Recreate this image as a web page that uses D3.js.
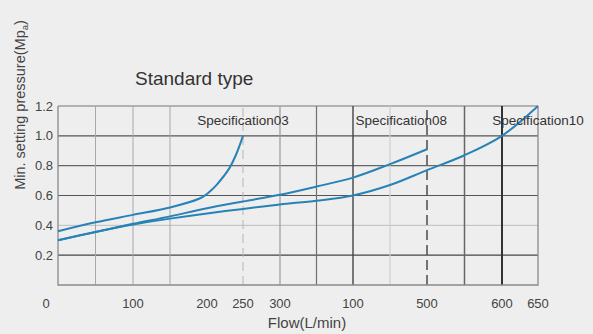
<!DOCTYPE html>
<html>
<head>
<meta charset="utf-8">
<script src="https://cdn.jsdelivr.net/npm/d3@7"></script>
<style>
  body { margin: 0; background: #efeeee; }
  svg { display: block; font-family: "Liberation Sans", Arial, sans-serif; }
</style>
</head>
<body>
<script>
// tick labels as printed on the original (second "100" is printed that way)
const xTickValues = [0, 100, 200, 250, 300, 400, 500, 600, 650]
const xTickLabels = ["0", "100", "200", "250", "300", "100", "500", "600", "650"]
const yTickValues = [0.2, 0.4, 0.6, 0.8, 1.0, 1.2]
const xGridValues = [50, 100, 150, 250, 300, 350, 400, 450, 500, 550, 600]

const spec03Flow = [0, 50, 100, 150, 190, 200, 207, 214, 230, 240, 250]
const spec03Pressure = [0.36, 0.42, 0.47, 0.52, 0.58, 0.61, 0.64, 0.675, 0.775, 0.87, 1.0]

const spec08Flow = [0, 50, 100, 150, 200, 250, 300, 350, 400, 450, 500]
const spec08Pressure = [0.30, 0.355, 0.41, 0.46, 0.515, 0.56, 0.605, 0.66, 0.72, 0.81, 0.91]

const spec10Flow = [0, 50, 100, 150, 200, 250, 300, 350, 400, 450, 500, 550, 600, 650]
const spec10Pressure = [0.30, 0.355, 0.405, 0.445, 0.48, 0.51, 0.54, 0.565, 0.60, 0.67, 0.77, 0.87, 1.0, 1.2]

const seriesNames = ["Specification03", "Specification08", "Specification10"]

width = 593
height = 334

// the flow axis is not uniform on the original, so map it piecewise
x = d3.scaleLinear()
  .domain(xTickValues)
  .range([58, 133, 207, 243, 280, 353, 427, 502, 538])

y = d3.scaleLinear()
  .domain([0, 1.2])
  .range([285, 106])

const svg = d3.select("body").append("svg")
  .attr("width", width)
  .attr("height", height)

// vertical grid styles
const vStyle = {
  50: {c: "#a8a8a8", w: 1}, 100: {c: "#a8a8a8", w: 1}, 150: {c: "#a8a8a8", w: 1},
  250: {c: "#b4b4b4", w: 1, dash: "9,5"}, 300: {c: "#9a9a9a", w: 1.2},
  350: {c: "#707070", w: 1.2}, 400: {c: "#444", w: 1.4}, 450: {c: "#cfcfcf", w: 1.2},
  500: {c: "#555", w: 1.6, dash: "10,5"}, 550: {c: "#666", w: 1.5}, 600: {c: "#333", w: 2}
}
const hStyle = {
  0.2: {c: "#444", w: 1.2}, 0.4: {c: "#bdbdbd", w: 1}, 0.6: {c: "#555", w: 1.2},
  0.8: {c: "#666", w: 1.2}, 1.0: {c: "#555", w: 1.2}, 1.2: {c: "#777", w: 1.2}
}

svg.append("g")
  .selectAll("line")
  .data(yTickValues)
  .join("line")
    .attr("x1", x(0)).attr("x2", x(650))
    .attr("y1", d => y(d)).attr("y2", d => y(d))
    .attr("stroke", d => hStyle[d].c)
    .attr("stroke-width", d => hStyle[d].w)

svg.append("g")
  .selectAll("line")
  .data(xGridValues)
  .join("line")
    .attr("x1", d => x(d)).attr("x2", d => x(d))
    .attr("y1", y(0)).attr("y2", y(1.2))
    .attr("stroke", d => vStyle[d].c)
    .attr("stroke-width", d => vStyle[d].w)
    .attr("stroke-dasharray", d => vStyle[d].dash || null)

// frame: left, bottom, right
svg.append("path")
  .attr("d", `M${x(0)},${y(1.2)}V${y(0)}H${x(650)}V${y(1.2)}`)
  .attr("fill", "none")
  .attr("stroke", "#8a8a8a")
  .attr("stroke-width", 1.3)

// curves
const series = [
  spec03Flow.map((f, i) => [f, spec03Pressure[i]]),
  spec08Flow.map((f, i) => [f, spec08Pressure[i]]),
  spec10Flow.map((f, i) => [f, spec10Pressure[i]])
]

const line = d3.line()
  .x(d => x(d[0]))
  .y(d => y(d[1]))
  .curve(d3.curveCatmullRom.alpha(0.5))

svg.append("g")
  .selectAll("path")
  .data(series)
  .join("path")
    .attr("d", line)
    .attr("fill", "none")
    .attr("stroke", "#2783b6")
    .attr("stroke-width", 2)

// series labels near the end of each curve
const labelPos = [
  {x: x(250), anchor: "middle"},
  {x: x(500) + 20, anchor: "end"},
  {x: x(650), anchor: "middle"}
]
svg.append("g")
  .selectAll("text")
  .data(seriesNames)
  .join("text")
    .attr("x", (d, i) => labelPos[i].x)
    .attr("y", 125)
    .attr("text-anchor", (d, i) => labelPos[i].anchor)
    .attr("font-size", 13.5)
    .attr("fill", "#333")
    .text(d => d)

// x tick labels
svg.append("g")
  .selectAll("text")
  .data(xTickValues)
  .join("text")
    .attr("x", (d, i) => x(d) + (d === 0 ? -12 : 0))
    .attr("y", 308)
    .attr("text-anchor", "middle")
    .attr("font-size", 13)
    .attr("fill", "#444")
    .text((d, i) => xTickLabels[i])

// y tick labels
svg.append("g")
  .selectAll("text")
  .data(yTickValues)
  .join("text")
    .attr("x", 53)
    .attr("y", d => y(d))
    .attr("dy", "0.35em")
    .attr("text-anchor", "end")
    .attr("font-size", 13)
    .attr("fill", "#444")
    .text(d => d.toFixed(1))

// titles
svg.append("text")
  .attr("x", 135)
  .attr("y", 85)
  .attr("font-size", 19)
  .attr("fill", "#333")
  .text("Standard type")

svg.append("text")
  .attr("x", 307)
  .attr("y", 328)
  .attr("text-anchor", "middle")
  .attr("font-size", 15)
  .attr("fill", "#444")
  .text("Flow(L/min)")

const yLabel = svg.append("text")
  .attr("transform", "translate(25,105) rotate(-90)")
  .attr("text-anchor", "middle")
  .attr("font-size", 14.5)
  .attr("fill", "#444")
yLabel.append("tspan").text("Min. setting pressure(Mp")
yLabel.append("tspan").attr("font-size", 9.5).attr("dy", 3).text("a")
yLabel.append("tspan").attr("dy", -3).text(")")
</script>
</body>
</html>
